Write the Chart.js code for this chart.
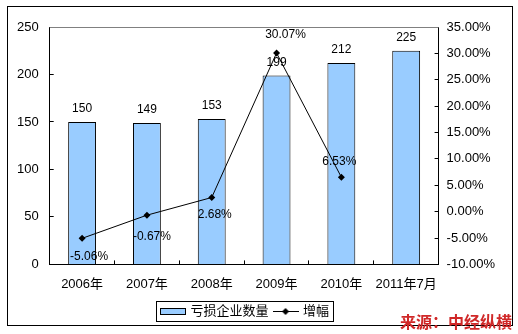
<!DOCTYPE html>
<html>
<head>
<meta charset="utf-8">
<script src="https://cdn.jsdelivr.net/npm/chart.js@4/dist/chart.umd.min.js"></script>
<style>
  body { margin: 0; background: #fff; }
  #wrap { width: 518px; height: 334px; }
</style>
</head>
<body>
<div id="wrap"><canvas id="myChart"></canvas></div>
<script>
const years = ['2006年', '2007年', '2008年', '2009年', '2010年', '2011年7月'];
const lossCompanies = [150, 149, 153, 199, 212, 225];
const growthRate = [-5.06, -0.67, 2.68, 30.07, 6.53, null];
const seriesNames = ['亏损企业数量', '增幅'];
const sourceText = '来源：中经纵横';

const FONT = "'Liberation Sans', Arial, 'Noto Sans CJK SC', sans-serif";

// little legend icons
function makeIcon(kind) {
  const c = document.createElement('canvas');
  c.width = 26; c.height = 9;
  const g = c.getContext('2d');
  if (kind === 'bar') {
    g.fillStyle = '#99ccff';
    g.fillRect(0.5, 1.5, 25, 6);
    g.strokeStyle = '#000';
    g.lineWidth = 1;
    g.strokeRect(0.5, 1.5, 25, 6);
  } else {
    g.strokeStyle = '#000';
    g.lineWidth = 1;
    g.beginPath(); g.moveTo(0, 4.5); g.lineTo(26, 4.5); g.stroke();
    g.fillStyle = '#000';
    g.beginPath(); g.moveTo(13, 1); g.lineTo(16.5, 4.5); g.lineTo(13, 8); g.lineTo(9.5, 4.5); g.closePath(); g.fill();
  }
  return c;
}
const icons = [makeIcon('bar'), makeIcon('line')];

// label offsets for the percent values (dx, dy from the point)
const pctOffsets = [[7, 18], [5, 22], [3, 17], [9, -18], [-2, -16]];
const legendShift = -9;

const labelPlugin = {
  id: 'labels',
  afterLayout(chart) {
    const lg = chart.legend;
    lg.left += legendShift;
    lg.right += legendShift;
    if (lg.legendHitBoxes) lg.legendHitBoxes.forEach(b => { b.left += legendShift; });
  },
  beforeDatasetsDraw(chart) {
    const a = chart.chartArea;
    const ctx = chart.ctx;
    ctx.save();
    ctx.strokeStyle = '#808080';
    ctx.lineWidth = 1;
    ctx.beginPath();
    ctx.moveTo(a.left, Math.round(a.top) + 0.5);
    ctx.lineTo(a.right, Math.round(a.top) + 0.5);
    ctx.stroke();
    ctx.restore();
  },
  afterDatasetsDraw(chart) {
    const ctx = chart.ctx;
    ctx.save();
    ctx.font = '12px ' + FONT;
    ctx.textAlign = 'center';
    ctx.textBaseline = 'middle';
    ctx.fillStyle = '#000';
    chart.getDatasetMeta(0).data.forEach((bar, i) => {
      ctx.fillText(lossCompanies[i], bar.x, bar.y - 13);
    });
    chart.getDatasetMeta(1).data.forEach((pt, i) => {
      if (growthRate[i] === null) return;
      const o = pctOffsets[i];
      ctx.fillText(growthRate[i].toFixed(2) + '%', pt.x + o[0], pt.y + o[1]);
    });
    ctx.restore();
  },
  afterDraw(chart) {
    const ctx = chart.ctx;
    ctx.save();
    // legend frame
    const boxes = chart.legend.legendHitBoxes;
    if (boxes && boxes.length) {
      const l = Math.min(...boxes.map(b => b.left)) - 6;
      const r = Math.max(...boxes.map(b => b.left + b.width)) + 4;
      const t = Math.min(...boxes.map(b => b.top)) - 4;
      const b2 = Math.max(...boxes.map(b => b.top + b.height)) + 3;
      ctx.strokeStyle = '#000';
      ctx.lineWidth = 1;
      ctx.strokeRect(Math.round(l) + 0.5, Math.round(t) + 0.5, Math.round(r - l), Math.round(b2 - t));
    }
    // outer frame
    ctx.strokeStyle = '#000';
    ctx.strokeRect(7.5, 6.5, 505, 319);
    // source note
    ctx.font = 'bold 16px ' + FONT;
    ctx.fillStyle = '#d02828';
    ctx.textAlign = 'right';
    ctx.textBaseline = 'alphabetic';
    ctx.fillText(sourceText, 512, 328);
    ctx.restore();
  }
};

const ctx = document.getElementById('myChart');
const chart = new Chart(ctx, {
  type: 'bar',
  data: {
    labels: years,
    datasets: [
      {
        label: seriesNames[0],
        data: lossCompanies,
        backgroundColor: '#99ccff',
        borderColor: '#000',
        borderWidth: 1,
        barPercentage: 0.86,
        categoryPercentage: 0.5,
        yAxisID: 'y',
        order: 2
      },
      {
        type: 'line',
        label: seriesNames[1],
        data: growthRate,
        borderColor: '#000',
        backgroundColor: '#000',
        borderWidth: 1,
        pointStyle: 'rectRot',
        pointRadius: 3.5,
        pointBorderWidth: 0,
        tension: 0,
        yAxisID: 'y1',
        order: 1
      }
    ]
  },
  options: {
    responsive: true,
    maintainAspectRatio: false,
    animation: false,
    layout: { padding: { top: 27, left: 2, right: 11, bottom: 6 } },
    plugins: {
      tooltip: { enabled: false },
      legend: {
        position: 'bottom',
        labels: {
          usePointStyle: true,
          pointStyleWidth: 22,
          boxHeight: 9,
          padding: 6,
          color: '#000',
          font: { size: 13, family: FONT },
          generateLabels(chart) {
            const items = Chart.defaults.plugins.legend.labels.generateLabels(chart);
            items.sort((a, b) => a.datasetIndex - b.datasetIndex);
            items.forEach(it => { it.pointStyle = icons[it.datasetIndex]; });
            return items;
          }
        }
      }
    },
    scales: {
      x: {
        afterFit: s => { s.height -= 9; },
        grid: { drawOnChartArea: false, tickLength: -4, color: '#000' },
        border: { color: '#000' },
        ticks: { color: '#000', padding: 16, maxRotation: 0, autoSkip: false, font: { size: 13, family: FONT } }
      },
      y: {
        position: 'left',
        min: 0,
        max: 250,
        ticks: { stepSize: 50, color: '#000', padding: 15, font: { size: 13, family: FONT } },
        grid: { drawOnChartArea: false, tickColor: '#000', tickLength: -4 },
        border: { color: '#000' }
      },
      y1: {
        position: 'right',
        min: -10,
        max: 35,
        ticks: {
          stepSize: 5,
          color: '#000',
          padding: 12,
          font: { size: 13, family: FONT },
          callback: v => v.toFixed(2) + '%'
        },
        grid: { drawOnChartArea: false, tickColor: '#000', tickLength: -4 },
        border: { color: '#000' }
      }
    }
  },
  plugins: [labelPlugin]
});
</script>
</body>
</html>
